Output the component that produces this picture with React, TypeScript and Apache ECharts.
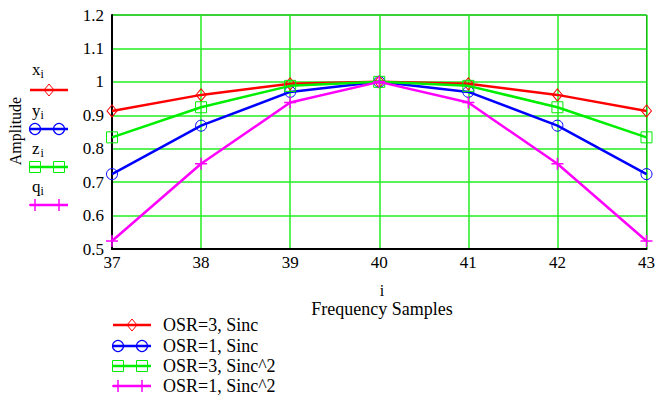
import React, { useEffect, useRef } from "react";
import * as echarts from "echarts";

const samples = [37, 38, 39, 40, 41, 42, 43];
const xValues = [0.913, 0.961, 0.994, 1, 0.994, 0.961, 0.913];
const yValues = [0.724, 0.869, 0.97, 1, 0.97, 0.869, 0.724];
const zValues = [0.834, 0.924, 0.988, 1, 0.988, 0.924, 0.834];
const qValues = [0.524, 0.755, 0.938, 1, 0.938, 0.755, 0.524];
const seriesNames = ["OSR=3, Sinc", "OSR=1, Sinc", "OSR=3, Sinc^2", "OSR=1, Sinc^2"];
const varNames = ["x", "y", "z", "q"];

const RED = "#ff0000";
const BLUE = "#0000ff";
const GREEN = "#00ee00";
const MAGENTA = "#ff00ff";
const GRIDGREEN = "#22ee22";
const FONT = "Liberation Serif";

type Kind = "diamond" | "circle" | "square" | "plus";

function marker(kind: Kind, cx: number, cy: number, color: string): any {
  const style = { fill: "none", stroke: color, lineWidth: 1 };
  if (kind === "diamond") {
    return { type: "polygon", shape: { points: [[cx, cy - 6], [cx + 5, cy], [cx, cy + 6], [cx - 5, cy]] }, style };
  }
  if (kind === "circle") {
    return { type: "circle", shape: { cx, cy, r: 5.5 }, style: { ...style, lineWidth: 1.2 } };
  }
  if (kind === "square") {
    return { type: "rect", shape: { x: cx - 5.5, y: cy - 5.5, width: 11, height: 11 }, style };
  }
  return {
    type: "group",
    children: [
      { type: "line", shape: { x1: cx - 6, y1: cy, x2: cx + 6, y2: cy }, style: { stroke: color, lineWidth: 1.5 } },
      { type: "line", shape: { x1: cx, y1: cy - 6, x2: cx, y2: cy + 6 }, style: { stroke: color, lineWidth: 1.5 } },
    ],
  };
}

function legendLine(kind: Kind, x1: number, x2: number, y: number, color: string, m1: number, m2: number): any[] {
  const els: any[] = [
    { type: "line", shape: { x1, y1: y, x2, y2: y }, style: { stroke: color, lineWidth: 2.5 } },
  ];
  if (kind === "diamond") els.push(marker(kind, (x1 + x2) / 2, y, color));
  else {
    els.push(marker(kind, m1, y, color));
    els.push(marker(kind, m2, y, color));
  }
  return els;
}

const kinds: Kind[] = ["diamond", "circle", "square", "plus"];
const colors = [RED, BLUE, GREEN, MAGENTA];

export default function App() {
  const ref = useRef<HTMLDivElement>(null);
  useEffect(() => {
    if (!ref.current) return;
    const chart = echarts.init(ref.current, null, { renderer: "svg" });

    const graphics: any[] = [];
    // left legend (variable names)
    const leftTextY = [69, 110, 148, 186];
    const leftLineY = [90, 129, 167, 205];
    varNames.forEach((v, i) => {
      graphics.push({
        type: "text",
        x: 32,
        y: leftTextY[i],
        style: { text: v, font: `17px '${FONT}'`, fill: "#000", verticalAlign: "middle" },
      });
      graphics.push({
        type: "text",
        x: 40.5,
        y: leftTextY[i] + 5,
        style: { text: "i", font: `12px '${FONT}'`, fill: "#000", verticalAlign: "middle" },
      });
      graphics.push(...legendLine(kinds[i], 30, 68, leftLineY[i], colors[i], 35, 59));
    });
    // bottom legend
    const botY = [325, 346, 366, 386];
    seriesNames.forEach((n, i) => {
      graphics.push(...legendLine(kinds[i], 113, 151, botY[i], colors[i], 118, 142));
      graphics.push({
        type: "text",
        x: 163,
        y: botY[i],
        style: { text: n, font: `18px '${FONT}'`, fill: "#000", verticalAlign: "middle" },
      });
    });
    // axis titles
    graphics.push({
      type: "text",
      x: 15,
      y: 131,
      rotation: Math.PI / 2,
      style: { text: "Amplitude", font: `16px '${FONT}'`, fill: "#000", align: "center", verticalAlign: "middle" },
    });
    graphics.push({
      type: "text",
      x: 382,
      y: 290,
      style: { text: "i", font: `16px '${FONT}'`, fill: "#000", align: "center", verticalAlign: "middle" },
    });
    graphics.push({
      type: "text",
      x: 382,
      y: 309,
      style: { text: "Frequency Samples", font: `18px '${FONT}'`, fill: "#000", align: "center", verticalAlign: "middle" },
    });

    const plus = "path://M0,5L10,5M5,0L5,10";
    const symbols = ["diamond", "circle", "rect", plus];
    const symbolSizes: any[] = [[10, 12], 11, 11, 12];
    const datasets = [xValues, yValues, zValues, qValues];

    chart.setOption({
      animation: false,
      backgroundColor: "#fff",
      grid: {
        left: 112,
        right: 6,
        top: 15,
        bottom: 146,
        show: true,
        borderColor: "#000",
        borderWidth: 1,
        backgroundColor: "transparent",
      },
      xAxis: {
        type: "value",
        min: 37,
        max: 43,
        interval: 1,
        axisLine: { show: true, onZero: false, lineStyle: { color: "#000", width: 2 } },
        axisTick: { show: false },
        splitLine: { show: true, lineStyle: { color: GRIDGREEN, width: 1.5 } },
        axisLabel: { color: "#000", fontFamily: FONT, fontSize: 17, margin: 5 },
      },
      yAxis: {
        type: "value",
        min: 0.5,
        max: 1.2,
        interval: 0.1,
        axisLine: { show: true, onZero: false, lineStyle: { color: "#000", width: 2 } },
        axisTick: { show: false },
        splitLine: { show: true, lineStyle: { color: GRIDGREEN, width: 1.5 } },
        axisLabel: {
          color: "#000",
          fontFamily: FONT,
          fontSize: 17,
          margin: 8,
          formatter: (v: number) => String(Number(v.toFixed(1))),
        },
      },
      series: datasets.map((d, i) => ({
        type: "line",
        name: seriesNames[i],
        data: samples.map((s, k) => [s, d[k]]),
        symbol: symbols[i],
        symbolSize: symbolSizes[i],
        showAllSymbol: true,
        lineStyle: { color: colors[i], width: 2.5 },
        itemStyle: { color: "rgba(0,0,0,0)", borderColor: colors[i], borderWidth: i === 3 ? 1.5 : 1 },
        emphasis: { disabled: true },
        z: 3 + i,
      })),
      graphic: graphics,
    });
    return () => chart.dispose();
  }, []);
  return <div ref={ref} style={{ width: 658, height: 395, position: "absolute", left: 0, top: 0 }} />;
}
